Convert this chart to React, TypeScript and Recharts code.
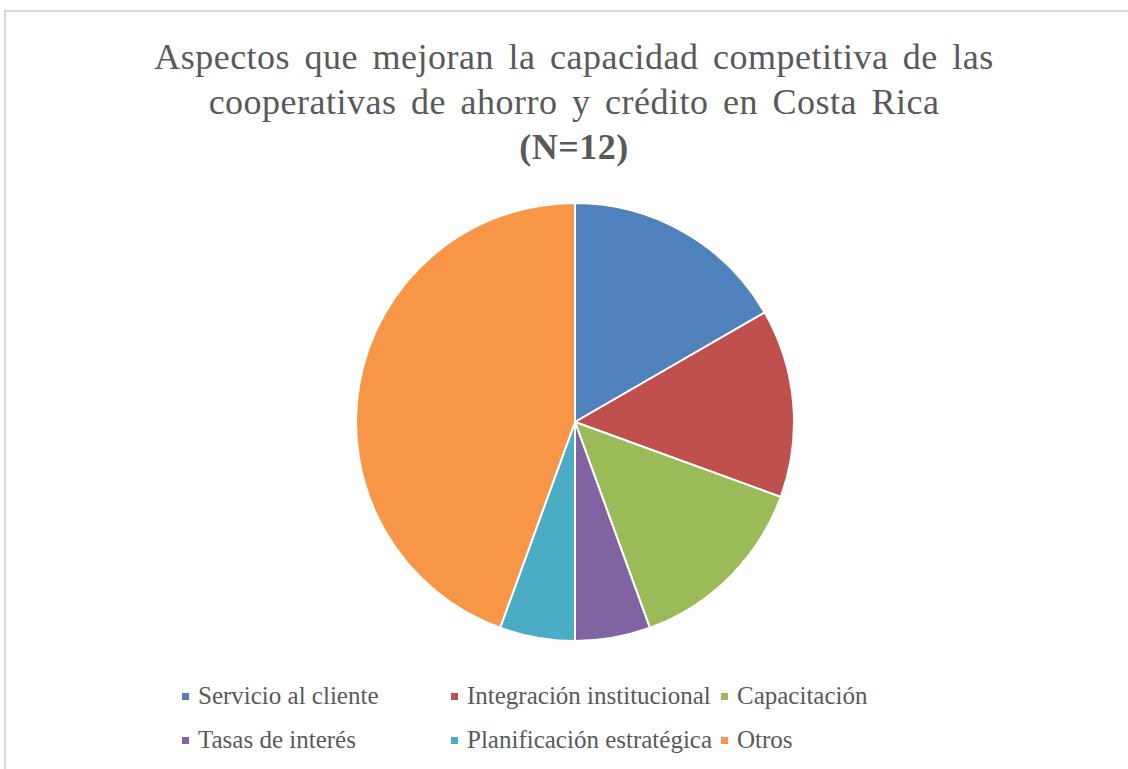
import { PieChart, Pie, Cell, Legend } from 'recharts'

// Respuestas por aspecto (N=12, respuestas múltiples)
const categories = [
  'Servicio al cliente',
  'Integración institucional',
  'Capacitación',
  'Tasas de interés',
  'Planificación estratégica',
  'Otros',
]
const values = [6, 5, 5, 2, 2, 16]
const colors = ['#4F81BD', '#C0504D', '#9BBB59', '#8064A2', '#4BACC6', '#F79646']

const titleLines = [
  'Aspectos que mejoran la capacidad competitiva de las',
  'cooperativas de ahorro y crédito en Costa Rica',
]
const subtitle = '(N=12)'

const data = categories.map((name, i) => ({ name, value: values[i] }))

const font = "'Liberation Serif', 'Times New Roman', serif"

// legend columns in the reference: three items per row
const legendCols = [182, 451, 721]

function renderLegend() {
  return (
    <div style={{ position: 'relative', width: 1128, height: 90 }}>
      {categories.map((name, i) => (
        <div
          key={name}
          style={{
            position: 'absolute',
            left: legendCols[i % 3],
            top: Math.floor(i / 3) * 44,
            display: 'flex',
            alignItems: 'center',
            fontFamily: font,
            fontSize: 25,
            lineHeight: '30px',
            color: '#595959',
            whiteSpace: 'nowrap',
          }}
        >
          <span style={{ width: 7, height: 7, background: colors[i], marginRight: 9, display: 'inline-block' }} />
          {name}
        </div>
      ))}
    </div>
  )
}

export default function App() {
  return (
    <div style={{ position: 'absolute', left: 0, top: 0, width: 1128, height: 769, background: '#fff', overflow: 'hidden' }}>
      <div
        style={{
          position: 'absolute',
          left: 4,
          top: 10,
          width: 1140,
          height: 780,
          border: '2px solid #d9d9d9',
          boxSizing: 'border-box',
        }}
      />
      <div
        style={{
          position: 'absolute',
          left: 0,
          top: 35,
          width: 1148,
          textAlign: 'center',
          fontFamily: font,
          fontSize: 36,
          lineHeight: '45px',
          color: '#595959',
          letterSpacing: 0.5,
          wordSpacing: 5,
        }}
      >
        {titleLines.map((l) => (
          <div key={l}>{l}</div>
        ))}
        <div style={{ fontWeight: 'bold' }}>{subtitle}</div>
      </div>
      <div style={{ position: 'absolute', left: 0, top: 0 }}>
        <PieChart width={1128} height={769} margin={{ top: 0, right: 0, bottom: 0, left: 0 }}>
          <Pie
            data={data}
            dataKey="value"
            nameKey="name"
            cx={575}
            cy={422}
            outerRadius={219}
            startAngle={90}
            endAngle={-270}
            stroke="#ffffff"
            strokeWidth={2}
            isAnimationActive={false}
          >
            {data.map((d, i) => (
              <Cell key={d.name} fill={colors[i]} />
            ))}
          </Pie>
          <Legend
            content={renderLegend}
            wrapperStyle={{ position: 'absolute', left: 0, top: 681, width: 1128 }}
          />
        </PieChart>
      </div>
    </div>
  )
}
